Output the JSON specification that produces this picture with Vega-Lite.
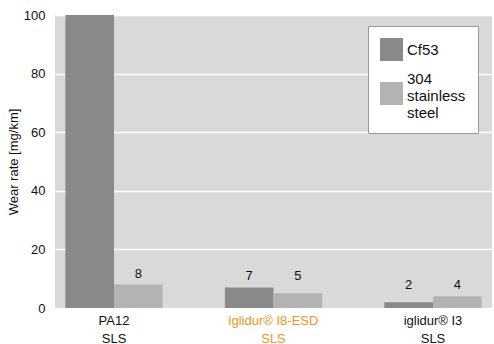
{
  "$schema": "https://vega.github.io/schema/vega-lite/v6.json",
  "width": 437,
  "height": 293,
  "autosize": {"type": "none"},
  "padding": {"left": 55, "top": 15, "right": 2, "bottom": 36},
  "background": "white",
  "config": {
    "font": "Liberation Sans",
    "view": {"fill": "#d9d9d9", "stroke": null},
    "axis": {"domain": false, "ticks": false}
  },
  "data": {
    "values": [
      {"material": "PA12 SLS", "counterpart": "Cf53", "value": 100},
      {"material": "PA12 SLS", "counterpart": "304 stainless steel", "value": 8},
      {"material": "iglidur® I8-ESD SLS", "counterpart": "Cf53", "value": 7},
      {"material": "iglidur® I8-ESD SLS", "counterpart": "304 stainless steel", "value": 5},
      {"material": "iglidur® I3 SLS", "counterpart": "Cf53", "value": 2},
      {"material": "iglidur® I3 SLS", "counterpart": "304 stainless steel", "value": 4}
    ]
  },
  "encoding": {
    "x": {
      "field": "material",
      "type": "nominal",
      "sort": null,
      "scale": {"paddingInner": 0.39, "paddingOuter": 0.065},
      "axis": {
        "title": null,
        "labelAngle": 0,
        "labelFontSize": 13,
        "labelPadding": 6,
        "labelLineHeight": 18,
        "labelBaseline": "top",
        "labelExpr": "[slice(datum.label, 0, lastindexof(datum.label, ' ')), 'SLS']",
        "labelColor": {"condition": {"test": "indexof(datum.value, 'I8') >= 0", "value": "#F39325"}, "value": "#111111"},
        "grid": false
      }
    },
    "xOffset": {"field": "counterpart", "type": "nominal", "sort": ["Cf53", "304 stainless steel"], "scale": {"paddingInner": 0, "paddingOuter": 0}}
  },
  "layer": [
    {
      "mark": {"type": "bar", "clip": true},
      "encoding": {
        "y": {
          "field": "value",
          "type": "quantitative",
          "scale": {"domain": [0, 100]},
          "axis": {
            "title": "Wear rate [mg/km]",
            "titleFontSize": 13,
            "titleFontWeight": "normal",
            "titleColor": "#111111",
            "titlePadding": 3,
            "labelFontSize": 13,
            "labelColor": "#111111",
            "labelPadding": 10,
            "values": [0, 20, 40, 60, 80, 100],
            "gridColor": "white",
            "gridWidth": 1.5,
            "gridOpacity": 1
          }
        },
        "color": {
          "field": "counterpart",
          "type": "nominal",
          "sort": ["Cf53", "304 stainless steel"],
          "scale": {"domain": ["Cf53", "304 stainless steel"], "range": ["#898989", "#b3b3b3"]},
          "legend": {
            "title": null,
            "orient": "none",
            "legendX": 313,
            "legendY": 11,
            "fillColor": "white",
            "strokeColor": "#999999",
            "padding": 12,
            "symbolType": "square",
            "symbolSize": 529,
            "symbolStrokeWidth": 0,
            "symbolOpacity": 1,
            "labelFontSize": 15,
            "labelColor": "#111111",
            "labelLineHeight": 14.5,
            "labelOffset": 4,
            "rowPadding": 11,
            "labelExpr": "datum.label == '304 stainless steel' ? ['304', 'stainless', 'steel'] : datum.label",
            "encoding": {
              "labels": {
                "dy": {"condition": {"test": "datum.value == '304 stainless steel'", "value": -14.5}, "value": 0}
              }
            }
          }
        }
      }
    },
    {
      "transform": [
        {"filter": "datum.value < 100"},
        {"joinaggregate": [{"op": "max", "field": "value", "as": "groupmax"}], "groupby": ["material"]}
      ],
      "mark": {"type": "text", "fontSize": 13, "dy": -7, "baseline": "alphabetic", "color": "#111111"},
      "encoding": {
        "y": {"field": "groupmax", "type": "quantitative"},
        "text": {"field": "value", "type": "quantitative"}
      }
    }
  ]
}
